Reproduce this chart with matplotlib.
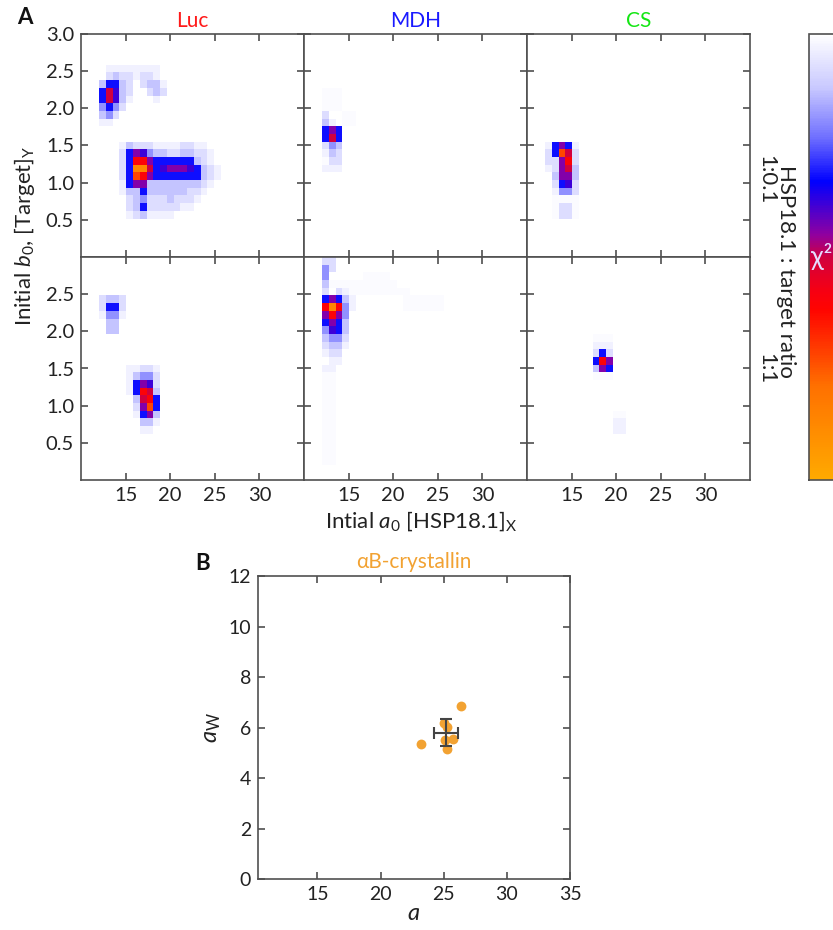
import numpy as np
import matplotlib
matplotlib.use("Agg")
import matplotlib.pyplot as plt
from matplotlib.colors import LinearSegmentedColormap, Normalize
from matplotlib.cm import ScalarMappable

plt.rcParams['font.family'] = ['Lato', 'DejaVu Sans']
plt.rcParams['mathtext.fontset'] = 'custom'
plt.rcParams['mathtext.rm'] = 'Lato'
plt.rcParams['mathtext.it'] = 'Lato:italic'
plt.rcParams['mathtext.bf'] = 'Lato:bold'

# ---------------- data ----------------
TARGETS = ["Luc", "MDH", "CS"]
TARGET_COLORS = ["#FF1A1A", "#1A1AFF", "#14E614"]
RATIOS = ["1:0.1", "1:1"]
X_TICKS = [15, 20, 25, 30]
Y_TICKS_TOP = [0.5, 1.0, 1.5, 2.0, 2.5, 3.0]
Y_TICKS_BOT = [0.5, 1.0, 1.5, 2.0, 2.5]

# chi^2 level codes
LEVELS = {'.': 0.0, ',': 0.008, '1': 0.035, '2': 0.075, '3': 0.125, '4': 0.19,
          '5': 0.32, '6': 0.38, '7': 0.44, '8': 0.50, '9': 0.60, 'a': 0.72, 'b': 0.86}

# (row j, first column i, codes)  rows: b0 bins, columns: a0 bins
LUC_TOP = [
    (24, 4, "11111111"), (23, 4, "23221221"), (22, 3, "35532.2331"),
    (21, 3, "58632..232"), (20, 3, "58631...1"), (19, 3, "4542"), (18, 3, "342"), (17, 3, "11"),
    (14, 6, "1322211112211"), (13, 6, "25764332233221"), (12, 6, "25997555555321"),
    (11, 6, "25bb85677765321"), (10, 6, "25a975555555321"), (9, 6, "15773333333321"),
    (8, 6, "1335333333221"), (7, 7, "23422232221"), (6, 7, "2352222211"), (5, 7, "1231111"),
]
LUC_BOT = [
    (23, 3, "2332"), (22, 3, "2552"), (21, 3, "1441"), (20, 3, ".33"), (19, 3, ".33"),
    (14, 7, "11221"), (13, 7, "13442"), (12, 7, "15762"), (11, 7, "15983"),
    (10, 7, ".3895"), (9, 7, ".27a5"), (8, 7, ".1573"), (7, 7, "..331"), (6, 7, "..11"),
]
MDH_TOP = [
    (21, 3, ",,,"), (20, 3, ",,,"), (19, 3, ",,,"), (18, 3, "2..,,"), (17, 3, "31.,,"),
    (16, 3, "575"), (15, 3, "585"), (14, 3, "243"), (13, 3, "132"), (12, 3, ",22"), (11, 3, "111"),
]
MDH_BOT = [
    (28, 3, "22"), (27, 3, "42"), (26, 3, "4"), (25, 3, "3,,,,,,,,,,"), (24, 3, "2.21,,,,,,,,,"),
    (23, 3, "57531"), (22, 3, "9b941"), (21, 3, "7974"), (20, 3, "5753"), (19, 3, "4653"),
    (18, 3, "3442"), (17, 3, "2331"), (16, 3, "122"), (15, 3, ".11"), (14, 3, "11"),
    (13, 3, ",,"), (12, 3, ",,"), (11, 3, ",,"), (10, 3, ",,"), (9, 3, ",,"), (8, 3, ",,"),
    (7, 3, ",,"), (6, 3, ",,"), (5, 3, ",,"), (4, 3, ",,"), (3, 3, ",,"), (2, 3, ",,"),
    (23, 15, ",,,,,,"), (22, 15, ",,,,,,"), (26, 9, ",,,,"),
]
CS_TOP = [
    (14, 3, "15751"), (13, 3, "25a82"), (12, 3, "22792"), (11, 3, "12783"), (10, 3, ".3773"),
    (9, 3, ".2562"), (8, 3, ".1442"), (7, 3, ".,,,,"), (6, 3, ".,22,"), (5, 3, ".,22,"),
]
CS_BOT = [
    (18, 10, ",,,"), (17, 10, "111"), (16, 10, "252"), (15, 10, "597"), (14, 10, "375"), (13, 10, ",,,"),
    (8, 13, ",,"), (7, 13, "11"), (6, 13, "11"),
]
PANELS = [[LUC_TOP, MDH_TOP, CS_TOP], [LUC_BOT, MDH_BOT, CS_BOT]]

# panel B (alphaB-crystallin)
A_VALUES = [23.2, 25.0, 25.25, 25.1, 25.25, 25.75, 26.4]
AW_VALUES = [5.36, 6.18, 6.03, 5.5, 5.15, 5.54, 6.85]
MEAN_A, MEAN_AW = 25.18, 5.8
ERR_A, ERR_AW = 0.98, 0.55

# ---------------- grid ----------------
N_ROWS, N_COLS = 29, 34
X_EDGES = 9.77 + (25.0 / 33.0) * np.arange(N_COLS + 1)
Y_EDGES = np.linspace(0, 3, N_ROWS + 1)

CMAP = LinearSegmentedColormap.from_list("chi2", [
    (0.0, "#FFFFFF"), (0.12, "#C8C8FF"), (0.23, "#7070FF"), (0.33, "#0000FF"),
    (0.37, "#3000E0"), (0.45, "#9000A0"), (0.50, "#D00040"), (0.58, "#F80010"),
    (0.62, "#FF0500"), (0.79, "#FF7000"), (1.0, "#FFAA00")])
NORM = Normalize(0, 1)


def build_grid(cells):
    g = np.zeros((N_ROWS, N_COLS))
    for j, i0, s in cells:
        for k, ch in enumerate(s):
            g[j, i0 + k] = LEVELS[ch]
    return g


W, H = 833, 930
fig = plt.figure(figsize=(W / 100, H / 100), dpi=100)

SPINE = "#505050"
TICKC = "#404040"
LABC = "#222222"


def style(ax, fs):
    for sp in ax.spines.values():
        sp.set_color(SPINE)
        sp.set_linewidth(1.2)
    ax.tick_params(direction="in", length=5, width=1.1, color=TICKC, top=True, right=True,
                   labelsize=fs, labelcolor=LABC, pad=5)


left0, cw, ch = 81, 223, 223
tops = [34, 257]
for r in range(2):
    for c in range(3):
        ax = fig.add_axes([(left0 + c * cw) / W, 1 - (tops[r] + ch) / H, cw / W, ch / H])
        g = build_grid(PANELS[r][c])
        ax.pcolormesh(X_EDGES, Y_EDGES, g, cmap=CMAP, norm=NORM, shading="flat",
                      antialiased=False, edgecolors="none")
        ax.set_xlim(10, 35)
        ax.set_ylim(0, 3)
        ax.set_xticks(X_TICKS)
        ax.set_yticks(Y_TICKS_TOP if r == 0 else Y_TICKS_BOT)
        style(ax, 14.5)
        if r == 0:
            ax.set_xticklabels([])
            ax.set_title(TARGETS[c], color=TARGET_COLORS[c], fontsize=15, pad=5)
        if c > 0:
            ax.set_yticklabels([])

fig.text(25 / W, 1 - 236 / H, r"Initial $b_0$, [Target]$_\mathrm{Y}$", rotation=90,
         ha="center", va="center", fontsize=16, color=LABC)
fig.text(421 / W, 1 - 521 / H, r"Intial $a_0$ [HSP18.1]$_\mathrm{X}$",
         ha="center", va="center", fontsize=16, color=LABC)
fig.text(786 / W, 1 - 271 / H, "HSP18.1 : target ratio", rotation=-90,
         ha="center", va="center", fontsize=16, color=LABC)
fig.text(766 / W, 1 - 180 / H, RATIOS[0], rotation=-90, ha="center", va="center",
         fontsize=16, color=LABC)
fig.text(766 / W, 1 - 369 / H, RATIOS[1], rotation=-90, ha="center", va="center",
         fontsize=16, color=LABC)
fig.text(25 / W, 1 - 18 / H, "A", fontsize=16, fontweight="bold", ha="center", va="center",
         color="#111111")

# colour bar
cax = fig.add_axes([809 / W, 1 - 480 / H, 45 / W, 446 / H])
sm = ScalarMappable(norm=NORM, cmap=CMAP)
cb = fig.colorbar(sm, cax=cax)
cb.set_ticks([])
cax.invert_yaxis()
cb.outline.set_edgecolor(SPINE)
cb.outline.set_linewidth(1.2)
fig.text(811 / W, 1 - 257 / H, "χ²", color="#E6DCFF", fontsize=19, ha="left", va="center",
         family=["Lato", "DejaVu Sans"])

# panel B
axB = fig.add_axes([258 / W, 1 - 879 / H, 312 / W, 303 / H])
axB.scatter(A_VALUES, AW_VALUES, s=50, color="#F2A232", zorder=2, linewidths=0)
axB.errorbar([MEAN_A], [MEAN_AW], xerr=[ERR_A], yerr=[ERR_AW], fmt="none",
             ecolor="#444444", elinewidth=1.5, capsize=4, capthick=1.5, zorder=3)
axB.set_xlim(10.3, 35)
axB.set_ylim(0, 12)
axB.set_xticks([15, 20, 25, 30, 35])
axB.set_yticks([0, 2, 4, 6, 8, 10, 12])
style(axB, 14)
axB.set_title("αB-crystallin", color="#F2A232", fontsize=15, pad=6)
axB.set_xlabel(r"$a$", fontsize=17, color=LABC, labelpad=0)
axB.set_ylabel(r"$a_\mathrm{W}$", fontsize=17, color=LABC, labelpad=4)
fig.text(203 / W, 1 - 563 / H, "B", fontsize=16, fontweight="bold", ha="center", va="center",
         color="#111111")

fig.savefig("out.png", dpi=100)
